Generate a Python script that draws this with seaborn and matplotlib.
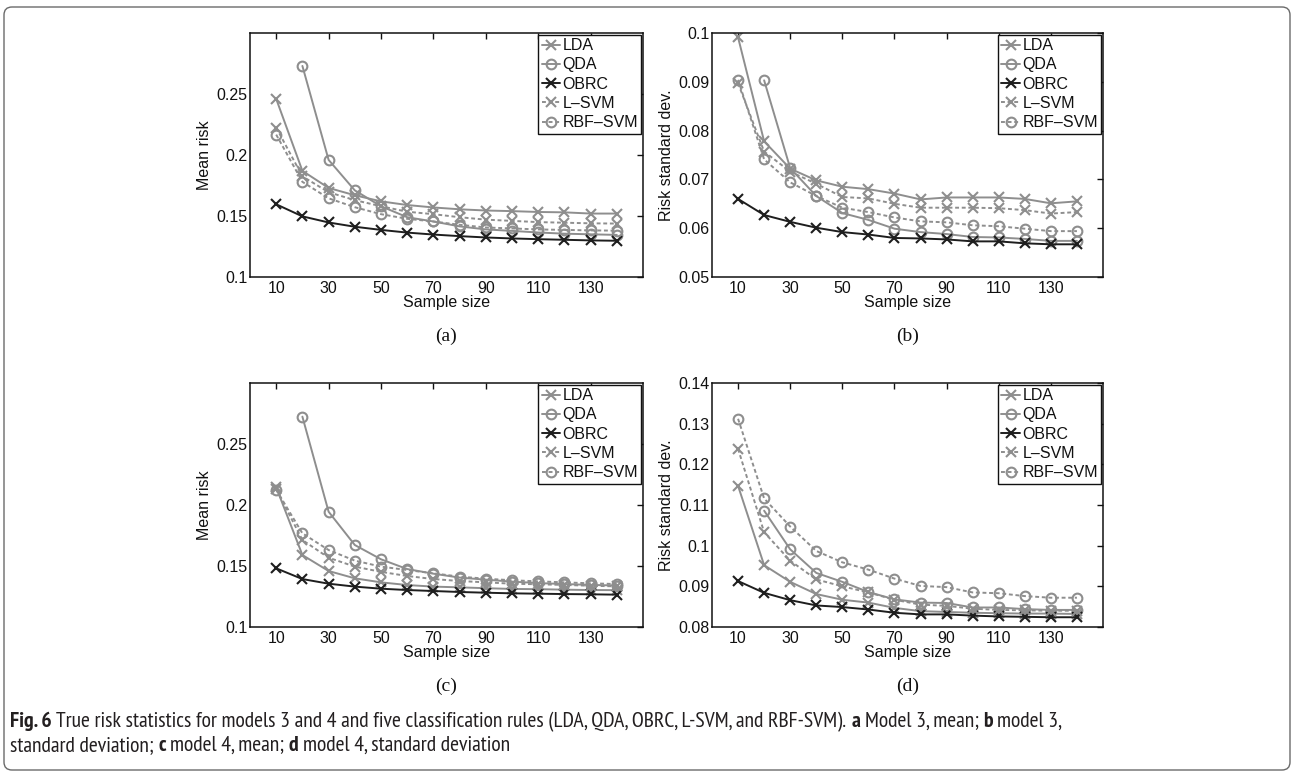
import matplotlib
matplotlib.use("Agg")
import matplotlib.pyplot as plt
import matplotlib.transforms as mtransforms
from matplotlib.patches import FancyBboxPatch
from matplotlib import font_manager
import seaborn as sns

# ---------------- data ----------------
sample_sizes = [10, 20, 30, 40, 50, 60, 70, 80, 90, 100, 110, 120, 130, 140]
qda_sizes = [20, 30, 40, 50, 60, 70, 80, 90, 100, 110, 120, 130, 140]
rule_names = ["LDA", "QDA", "OBRC", "L\u2013SVM", "RBF\u2013SVM"]

x_ticks = [10, 30, 50, 70, 90, 110, 130]

# (a) model 3, mean
a_lda = [0.246, 0.187, 0.173, 0.167, 0.162, 0.159, 0.157, 0.1555, 0.1545, 0.154, 0.1533, 0.153, 0.152, 0.152]
a_qda = [0.273, 0.196, 0.171, 0.158, 0.149, 0.1455, 0.1415, 0.139, 0.1378, 0.1365, 0.1355, 0.135, 0.1345]
a_obrc = [0.1596, 0.1497, 0.1447, 0.1412, 0.1386, 0.1364, 0.1348, 0.1335, 0.1324, 0.1316, 0.131, 0.1305, 0.130, 0.1297]
a_lsvm = [0.2225, 0.1825, 0.1695, 0.163, 0.158, 0.1535, 0.1515, 0.149, 0.147, 0.146, 0.145, 0.1445, 0.144, 0.1438]
a_rbf = [0.2167, 0.178, 0.1645, 0.1572, 0.1515, 0.1477, 0.1455, 0.1428, 0.1406, 0.1398, 0.139, 0.1386, 0.1382, 0.138]

# (b) model 3, standard deviation
b_lda = [0.0991, 0.0778, 0.0722, 0.0698, 0.0685, 0.0680, 0.0671, 0.0659, 0.0663, 0.0663, 0.0663, 0.0660, 0.0651, 0.0655]
b_qda = [0.0903, 0.0723, 0.0666, 0.0631, 0.0617, 0.0599, 0.0592, 0.0588, 0.0582, 0.0581, 0.0578, 0.0574, 0.0574]
b_obrc = [0.0660, 0.0627, 0.0613, 0.0601, 0.0592, 0.0587, 0.0580, 0.0579, 0.0577, 0.0573, 0.0573, 0.0569, 0.0567, 0.0567]
b_lsvm = [0.0897, 0.0757, 0.0716, 0.0691, 0.0664, 0.0661, 0.0650, 0.0642, 0.0642, 0.0642, 0.0641, 0.0637, 0.0630, 0.0633]
b_rbf = [0.0904, 0.0741, 0.0694, 0.0666, 0.0642, 0.0633, 0.0622, 0.0614, 0.0612, 0.0606, 0.0604, 0.0599, 0.0594, 0.0594]

# (c) model 4, mean
c_lda = [0.2145, 0.159, 0.1459, 0.1399, 0.1366, 0.1344, 0.1331, 0.1325, 0.1318, 0.1312, 0.131, 0.1306, 0.1303, 0.1302]
c_qda = [0.2724, 0.1945, 0.1672, 0.1555, 0.1475, 0.1437, 0.1405, 0.1388, 0.1372, 0.136, 0.1352, 0.1345, 0.134]
c_obrc = [0.1481, 0.1393, 0.1355, 0.1331, 0.1314, 0.1303, 0.1295, 0.1287, 0.1281, 0.1276, 0.1273, 0.127, 0.1268, 0.1265]
c_lsvm = [0.213, 0.1713, 0.1568, 0.1495, 0.1452, 0.1418, 0.1393, 0.1377, 0.1366, 0.1355, 0.135, 0.1345, 0.1338, 0.1333]
c_rbf = [0.2125, 0.1768, 0.1631, 0.1544, 0.1495, 0.1467, 0.144, 0.1413, 0.1396, 0.1383, 0.1374, 0.1366, 0.1358, 0.1352]

# (d) model 4, standard deviation
d_lda = [0.1147, 0.0952, 0.0911, 0.0881, 0.0867, 0.0860, 0.0847, 0.0839, 0.0837, 0.0835, 0.0834, 0.0833, 0.0833, 0.0832]
d_qda = [0.1086, 0.0991, 0.0933, 0.0911, 0.0886, 0.0868, 0.0860, 0.0859, 0.0848, 0.0848, 0.0844, 0.0842, 0.0842]
d_obrc = [0.0913, 0.0884, 0.0866, 0.0853, 0.0849, 0.0843, 0.0835, 0.0831, 0.0831, 0.0828, 0.0826, 0.0825, 0.0824, 0.0824]
d_lsvm = [0.1238, 0.1033, 0.0963, 0.0917, 0.0900, 0.0885, 0.0867, 0.0855, 0.0852, 0.0845, 0.0842, 0.0841, 0.0840, 0.0840]
d_rbf = [0.1312, 0.1116, 0.1047, 0.0987, 0.0959, 0.0941, 0.0919, 0.0901, 0.0898, 0.0885, 0.0883, 0.0876, 0.0872, 0.0872]

mean_yticks = [0.1, 0.15, 0.2, 0.25]
mean_yticklabels = ["0.1", "0.15", "0.2", "0.25"]
b_yticks = [0.05, 0.06, 0.07, 0.08, 0.09, 0.1]
b_yticklabels = ["0.05", "0.06", "0.07", "0.08", "0.09", "0.1"]
d_yticks = [0.08, 0.09, 0.1, 0.11, 0.12, 0.13, 0.14]
d_yticklabels = ["0.08", "0.09", "0.1", "0.11", "0.12", "0.13", "0.14"]

panel_letters = ["(a)", "(b)", "(c)", "(d)"]
y_labels = ["Mean risk", "Risk standard dev.", "Mean risk", "Risk standard dev."]
x_label = "Sample size"

caption_line1 = [("Fig. 6", True),
                 (" True risk statistics for models 3 and 4 and five classification rules (LDA, QDA, OBRC, L-SVM, and RBF-SVM).", False),
                 (" a", True), (" Model 3, mean;", False), (" b", True), (" model 3,", False)]
caption_line2 = [("standard deviation;", False), (" c", True), (" model 4, mean;", False),
                 (" d", True), (" model 4, standard deviation", False)]

# ---------------- style ----------------
sns.set_style("white")
plt.rcParams["font.family"] = ["Liberation Sans", "DejaVu Sans"]
plt.rcParams["axes.linewidth"] = 1.1

W, H = 1294, 775
fig = plt.figure(figsize=(W / 100, H / 100), dpi=100)

GRAY = "#8e8e8e"
BLACK = "#1e1e1e"
DOT = (0, (2.0, 1.4))

series_style = [
    dict(color=GRAY, marker="x", linestyle="-"),
    dict(color=GRAY, marker="o", linestyle="-"),
    dict(color=BLACK, marker="x", linestyle="-"),
    dict(color=GRAY, marker="x", linestyle=DOT),
    dict(color=GRAY, marker="o", linestyle=DOT),
]

panels = [
    dict(rect=(250, 33, 643, 277), data=[a_lda, a_qda, a_obrc, a_lsvm, a_rbf],
         ylim=(0.1, 0.3), yt=mean_yticks, ytl=mean_yticklabels),
    dict(rect=(712, 33, 1103, 277), data=[b_lda, b_qda, b_obrc, b_lsvm, b_rbf],
         ylim=(0.05, 0.1), yt=b_yticks, ytl=b_yticklabels),
    dict(rect=(250, 383, 643, 627), data=[c_lda, c_qda, c_obrc, c_lsvm, c_rbf],
         ylim=(0.1, 0.3), yt=mean_yticks, ytl=mean_yticklabels),
    dict(rect=(712, 383, 1103, 627), data=[d_lda, d_qda, d_obrc, d_lsvm, d_rbf],
         ylim=(0.08, 0.14), yt=d_yticks, ytl=d_yticklabels),
]

FS = 11.5
for i, p in enumerate(panels):
    x0, y0, x1, y1 = p["rect"]
    ax = fig.add_axes([x0 / W, 1 - y1 / H, (x1 - x0) / W, (y1 - y0) / H])
    for j, vals in enumerate(p["data"]):
        xs = qda_sizes if j == 1 else sample_sizes
        st = series_style[j]
        sns.lineplot(x=xs, y=vals, ax=ax, color=st["color"], marker=st["marker"],
                     linestyle=st["linestyle"], linewidth=1.4, markersize=7,
                     markeredgewidth=1.5, markeredgecolor=st["color"],
                     markerfacecolor="none", label=rule_names[j],
                     estimator=None, sort=False)
    ax.set_xlim(0, 150)
    ax.set_ylim(*p["ylim"])
    ax.set_xticks(x_ticks)
    ax.set_xticklabels([str(v) for v in x_ticks])
    ax.set_yticks(p["yt"])
    ax.set_yticklabels(p["ytl"])
    ax.tick_params(axis="both", direction="in", length=4, width=1, top=True, right=True,
                   labelsize=FS, colors="#111111")
    ax.tick_params(axis="y", pad=2)
    ax.tick_params(axis="x", pad=3)
    for s in ax.spines.values():
        s.set_color("#111111")
        s.set_linewidth(1.1)
    ax.set_xlabel(x_label, fontsize=FS, labelpad=-1, color="#111111")
    ax.set_ylabel(y_labels[i], fontsize=FS, labelpad=3, color="#111111")
    leg = ax.legend(loc="upper right", fontsize=FS, frameon=True, fancybox=False,
                    framealpha=1, edgecolor="#111111", borderpad=0.2, labelspacing=0.27,
                    handlelength=1.15, handletextpad=0.15, borderaxespad=0.12)
    leg.get_frame().set_linewidth(1.0)
    for t in leg.get_texts():
        t.set_color("#111111")
    cx = (x0 + x1) / 2
    fig.text(cx / W, 1 - (y1 + 59) / H, panel_letters[i], ha="center", va="center",
             fontsize=14, family=["Liberation Serif", "DejaVu Serif"], color="#111111")

# ---------------- caption font: a condensed sans with regular + bold faces ----------------
weights = {}
for f in font_manager.fontManager.ttflist:
    w = f.weight if isinstance(f.weight, int) else font_manager.weight_dict.get(f.weight, 400)
    weights.setdefault((f.name, f.stretch), set()).add((w, f.style))

cap_family, cap_stretch = "Liberation Sans", "normal"
cands = []
for (name, stretch), ws in weights.items():
    if "Mono" in name:
        continue
    condensed = ("Narrow" in name or "Condensed" in name or
                 stretch in ("condensed", "semi-condensed"))
    has_reg = any(w == 400 and s == "normal" for w, s in ws)
    has_bold = any(w >= 600 and s == "normal" for w, s in ws)
    if condensed and has_reg and has_bold:
        cands.append((0 if "Narrow" in name else 1, name, stretch))
if cands:
    cands.sort()
    _, cap_family, cap_stretch = cands[0]

fig.canvas.draw()
renderer = fig.canvas.get_renderer()


def make_text(x, y, s, bold, fs, **kw):
    return fig.text(x, y, s, fontsize=fs, fontweight="bold" if bold else "normal",
                    family=cap_family, fontstretch=cap_stretch, **kw)


def text_width(s, bold, fs):
    t = make_text(0, 0, s, bold, fs)
    w = t.get_window_extent(renderer=renderer).width
    t.remove()
    return w


def run_width(runs, fs):
    sp = text_width("a a", False, fs) - text_width("aa", False, fs)
    tot = 0
    for s, b in runs:
        lead = len(s) - len(s.lstrip(" "))
        tot += lead * sp + text_width(s.lstrip(" "), b, fs)
    return tot, sp


target = 1058.0
w10, _ = run_width(caption_line1, 10)
cap_fs = 10 * target / w10


def place(runs, x, ybase):
    _, sp = run_width(runs, cap_fs)
    for s, b in runs:
        lead = len(s) - len(s.lstrip(" "))
        x += lead * sp
        core = s.lstrip(" ")
        make_text(x / W, 1 - ybase / H, core, b, cap_fs, ha="left", va="baseline", color="#231f20")
        x += text_width(core, b, cap_fs)


place(caption_line1, 10, 727)
place(caption_line2, 10, 751)

# frame around the figure
box = FancyBboxPatch((4, 5), W - 8, H - 12, boxstyle="round,pad=0,rounding_size=8",
                     transform=mtransforms.IdentityTransform(), fill=False,
                     edgecolor="#6a6a6a", linewidth=1.0)
fig.patches.append(box)

fig.savefig("out.png", dpi=100)
